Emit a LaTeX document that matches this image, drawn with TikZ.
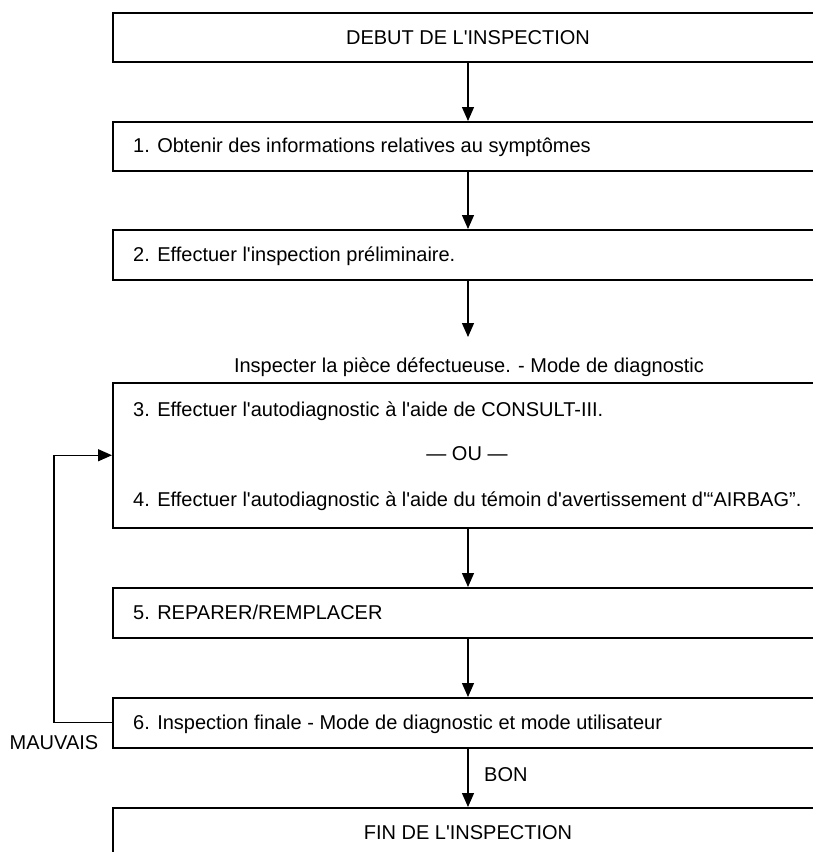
\documentclass[tikz,border=0pt]{standalone}
\usepackage{fontspec}
\setmainfont{Liberation Sans}
\usetikzlibrary{arrows.meta}
\newcommand{\ap}{\textquotesingle}
\begin{document}
\begin{tikzpicture}[x=1pt,y=1pt,
  box/.style={draw,line width=1.5pt,rectangle,minimum width=702pt,inner sep=0pt,anchor=north west},
  txt/.style={font=\fontsize{20}{24}\selectfont,inner sep=0pt},
  lt/.style={txt,anchor=base west},
  ct/.style={txt,anchor=base},
  arr/.style={line width=1.3pt,-{Triangle[length=14pt,width=12pt]}}]
\useasboundingbox (0,0) rectangle (812,-852);
% boxes
\node[box,minimum height=49pt] (debut) at (112,-12) {};
\node[box,minimum height=49pt] (b1) at (112,-121) {};
\node[box,minimum height=50pt] (b2) at (112,-229) {};
\node[box,minimum height=145pt] (b3) at (112,-382) {};
\node[box,minimum height=50pt] (b5) at (112,-587) {};
\node[box,minimum height=50pt] (b6) at (112,-697) {};
\node[box,minimum height=60pt] (fin) at (112,-807) {};
% texts
\node[ct] (tdebut) at (468,-44) {DEBUT DE L\ap INSPECTION};
\node[lt] (t1) at (133,-152) {1. Obtenir des informations relatives au symptômes};
\node[lt] (t2) at (133,-261) {2. Effectuer l\ap inspection préliminaire.};
\node[ct] (lab) at (469,-372) {Inspecter la pièce défectueuse. - Mode de diagnostic};
\node[lt] (t3) at (133,-416) {3. Effectuer l\ap autodiagnostic à l\ap aide de CONSULT-III.};
\node[ct] (tou) at (467,-460) {— OU —};
\node[lt] (t4) at (133,-506) {4. Effectuer l\ap autodiagnostic à l\ap aide du témoin d\ap avertissement d\ap “AIRBAG”.};
\node[lt] (t5) at (133,-619) {5. REPARER/REMPLACER};
\node[lt] (t6) at (133,-729) {6. Inspection finale - Mode de diagnostic et mode utilisateur};
\node[ct] (tfin) at (468,-839) {FIN DE L\ap INSPECTION};
\node[ct] (mauvais) at (54,-749) {MAUVAIS};
\node[lt] (bon) at (484,-781) {BON};
% connectors
\coordinate (ax) at (468,0);
\coordinate (lx) at (54,0);
\coordinate (tip2) at (468,-337);
\draw[arr] (debut.south -| ax) -- (b1.north -| ax);
\draw[arr] (b1.south -| ax) -- (b2.north -| ax);
\draw[arr] (b2.south -| ax) -- (tip2);
\draw[arr] (b3.south -| ax) -- (b5.north -| ax);
\draw[arr] (b5.south -| ax) -- (b6.north -| ax);
\draw[arr] (b6.south -| ax) -- (fin.north -| ax);
\draw[arr] (b6.west) -- (b6.west -| lx) -- (b3.west -| lx) -- (b3.west);
\end{tikzpicture}
\end{document}
